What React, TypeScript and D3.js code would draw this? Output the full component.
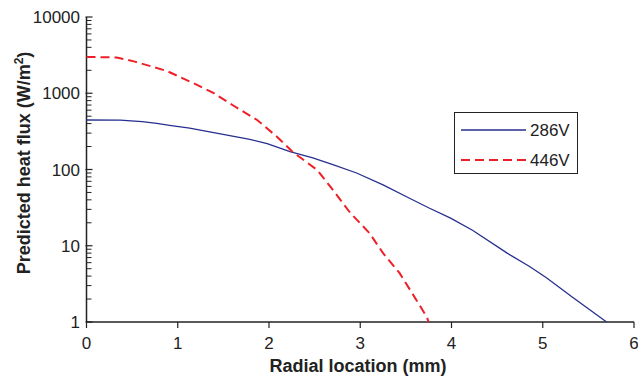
import React from "react";
import * as d3 from "d3";

const xTicks = [0, 1, 2, 3, 4, 5, 6];
const yTicks = [1, 10, 100, 1000, 10000];

const x286 = [0, 0.37, 0.61, 0.77, 0.91, 1.13, 1.35, 1.57, 1.79, 1.98, 2.23, 2.48, 2.7, 2.96, 3.25, 3.54, 3.76, 3.99, 4.23, 4.61, 4.86, 5.04, 5.33, 5.7];
const v286 = [446, 444, 425, 403, 380, 348, 312, 278, 249, 218, 172, 142, 116, 90, 63, 42, 31, 23, 16, 8.0, 5.3, 3.8, 2.1, 1.0];

const x446 = [0, 0.33, 0.53, 0.88, 1.17, 1.39, 1.6, 1.87, 2.09, 2.26, 2.53, 2.7, 2.89, 3.1, 3.25, 3.43, 3.62, 3.73, 3.75];
const v446 = [2990, 2950, 2600, 1960, 1360, 1010, 701, 446, 267, 170, 98, 54, 27, 14.7, 8.0, 4.4, 1.9, 1.16, 1.0];

const seriesNames = ["286V", "446V"];

export default function App() {
  const W = 638, H = 376;
  const x = d3.scaleLinear().domain([0, 6]).range([86.5, 634]);
  const y = d3.scaleLog().domain([1, 10000]).range([322, 17]);
  const line = d3.line<[number, number]>().x(d => x(d[0])).y(d => y(d[1]));
  const d286 = line(x286.map((v, i) => [v, v286[i]] as [number, number])) || "";
  const d446 = line(x446.map((v, i) => [v, v446[i]] as [number, number])) || "";
  const minor: number[] = [];
  for (let e = 0; e < 4; e++) for (let k = 2; k <= 9; k++) minor.push(k * Math.pow(10, e));
  const font = "Arial, 'Liberation Sans', Helvetica, sans-serif";
  const blue = "#262f8f";
  const red = "#ee2027";
  const axisColor = "#222";
  return (
    <svg width={W} height={H} style={{ position: "absolute", left: 0, top: 0, background: "#fff" }} fontFamily={font}>
      <rect width={W} height={H} fill="#fff" />
      {/* y axis */}
      <line x1={x(0)} x2={x(0)} y1={y(1)} y2={y(10000)} stroke={axisColor} strokeWidth={1.5} />
      {yTicks.map(t => (
        <g key={"y" + t}>
          <line x1={x(0) - 1} x2={x(0) + 6} y1={y(t)} y2={y(t)} stroke={axisColor} strokeWidth={1.2} />
          <text x={80} y={y(t)} dy="0.36em" textAnchor="end" fontSize={17} fill="#222">{t}</text>
        </g>
      ))}
      {minor.map(t => (
        <line key={"m" + t} x1={x(0)} x2={x(0) + 5} y1={y(t)} y2={y(t)} stroke={axisColor} strokeWidth={1} />
      ))}
      {/* x axis */}
      <line x1={x(0)} x2={x(6)} y1={y(1)} y2={y(1)} stroke={axisColor} strokeWidth={1.5} />
      {xTicks.map(t => (
        <g key={"x" + t}>
          <line x1={x(t)} x2={x(t)} y1={y(1)} y2={y(1) + 6} stroke={axisColor} strokeWidth={1.2} />
          <text x={x(t)} y={349} textAnchor="middle" fontSize={17} fill="#222">{t}</text>
        </g>
      ))}
      {/* series */}
      <path d={d286} fill="none" stroke={blue} strokeWidth={1.3} />
      <path d={d446} fill="none" stroke={red} strokeWidth={2} strokeDasharray="9,5" />
      {/* titles */}
      <text x={358} y={372} textAnchor="middle" fontSize={18} fontWeight="bold" fill="#222">Radial location (mm)</text>
      <text transform="translate(30,163) rotate(-90)" textAnchor="middle" fontSize={18} fontWeight="bold" fill="#222">
        Predicted heat flux (W/m<tspan dy={-7} fontSize={12}>2</tspan><tspan dy={7}>)</tspan>
      </text>
      {/* legend */}
      <rect x={454.5} y={112.5} width={123} height={61} fill="#fff" stroke="#222" strokeWidth={1} />
      <line x1={461} x2={526} y1={130} y2={130} stroke={blue} strokeWidth={1.3} />
      <text x={530} y={136} fontSize={17} fill="#222">{seriesNames[0]}</text>
      <line x1={461} x2={526} y1={160} y2={160} stroke={red} strokeWidth={2} strokeDasharray="9,5" />
      <text x={530} y={166} fontSize={17} fill="#222">{seriesNames[1]}</text>
    </svg>
  );
}
